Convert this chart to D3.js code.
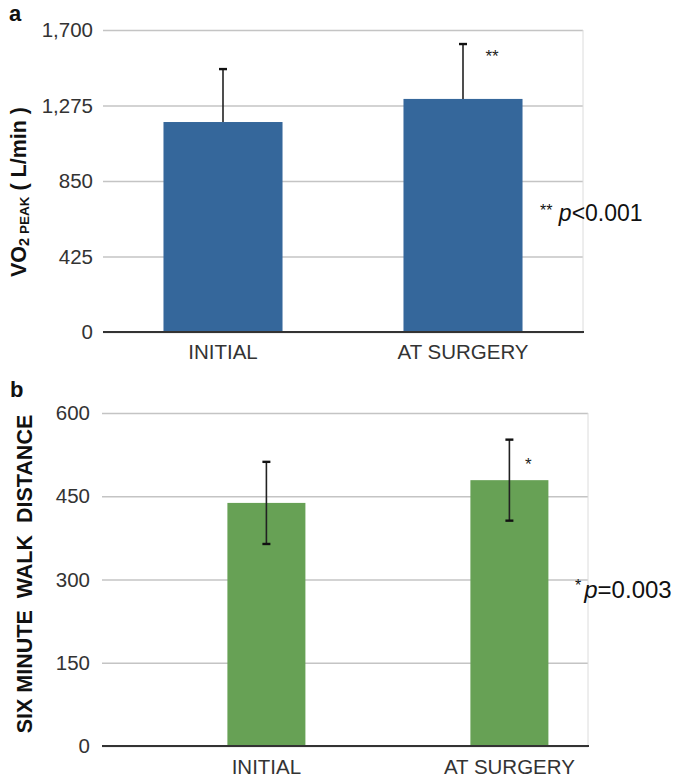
<!DOCTYPE html>
<html>
<head>
<meta charset="utf-8">
<script src="https://cdn.jsdelivr.net/npm/d3@7/dist/d3.min.js"></script>
<style>
  html, body { margin: 0; padding: 0; background: #fff; }
  svg { display: block; font-family: "Liberation Sans", Arial, Helvetica, sans-serif; }
</style>
</head>
<body>
<svg id="chart" width="679" height="777"></svg>
<script>
// ---- Data ----
const categories = ["INITIAL", "AT SURGERY"];

const vo2Mean = [1182, 1312];
const vo2SD = [298, 309];
const vo2Ticks = [0, 425, 850, 1275, 1700];
const vo2Sig = ["", "**"];

const walkMean = [438, 479];
const walkSD = [74, 73];
const walkTicks = [0, 150, 300, 450, 600];
const walkSig = ["", "*"];

// ---- Drawing ----
const svg = d3.select("#chart");

function panel(opts) {
  const g = svg.append("g");
  const x = d3.scaleBand()
    .domain(categories)
    .range([opts.left, opts.right])
    .paddingInner(opts.padIn)
    .paddingOuter(opts.padIn / 2)
    .align(opts.align);
  const y = d3.scaleLinear().domain([0, opts.max]).range([opts.bottom, opts.top]);

  // gridlines + tick labels
  const yAxis = d3.axisLeft(y)
    .tickValues(opts.ticks)
    .tickSize(-(opts.right - opts.left))
    .tickPadding(opts.tickPad)
    .tickFormat(d3.format(","));
  const ya = g.append("g").attr("transform", `translate(${opts.left},0)`).call(yAxis);
  ya.select(".domain").remove();
  ya.selectAll(".tick line").attr("stroke", "#c4c4c4").attr("stroke-width", 1.5);
  ya.selectAll(".tick text")
    .attr("fill", "#333")
    .attr("font-size", 20.5)
    .attr("font-family", "Liberation Sans, Arial, sans-serif");

  // right border
  g.append("line")
    .attr("x1", opts.right).attr("x2", opts.right)
    .attr("y1", y(opts.max)).attr("y2", y(0))
    .attr("stroke", "#dcdcdc").attr("stroke-width", 1);

  // bars
  g.selectAll("rect.bar").data(categories).join("rect")
    .attr("class", "bar")
    .attr("x", d => x(d))
    .attr("width", x.bandwidth())
    .attr("y", (d, i) => y(opts.mean[i]))
    .attr("height", (d, i) => y(0) - y(opts.mean[i]))
    .attr("fill", opts.color);

  // error bars
  const cap = 4;
  categories.forEach((c, i) => {
    const cx = x(c) + x.bandwidth() / 2;
    const hi = opts.mean[i] + opts.sd[i];
    const lo = opts.both ? opts.mean[i] - opts.sd[i] : opts.mean[i];
    g.append("line").attr("x1", cx).attr("x2", cx)
      .attr("y1", y(hi)).attr("y2", y(lo))
      .attr("stroke", "#222").attr("stroke-width", 1.6);
    g.append("line").attr("x1", cx - cap).attr("x2", cx + cap)
      .attr("y1", y(hi)).attr("y2", y(hi))
      .attr("stroke", "#111").attr("stroke-width", 2.4);
    if (opts.both) {
      g.append("line").attr("x1", cx - cap).attr("x2", cx + cap)
        .attr("y1", y(lo)).attr("y2", y(lo))
        .attr("stroke", "#111").attr("stroke-width", 2.4);
    }
    if (opts.sig[i]) {
      g.append("text")
        .attr("x", cx + opts.sigDx)
        .attr("y", y(opts.mean[i] + opts.sigDy))
        .attr("text-anchor", "middle")
        .attr("font-size", 17)
        .attr("fill", "#222")
        .text(opts.sig[i]);
    }
  });

  // x baseline
  g.append("line")
    .attr("x1", opts.left).attr("x2", opts.right + 1)
    .attr("y1", y(0)).attr("y2", y(0))
    .attr("stroke", "#333").attr("stroke-width", 2);

  // x labels
  g.selectAll("text.xl").data(categories).join("text")
    .attr("class", "xl")
    .attr("x", d => x(d) + x.bandwidth() / 2)
    .attr("y", y(0) + opts.xlabDy)
    .attr("text-anchor", "middle")
    .attr("font-size", 20.5)
    .attr("fill", "#333")
    .text(d => d);

  return { x, y };
}

// Panel a
panel({
  left: 103, right: 583, top: 30, bottom: 332, max: 1700,
  padIn: 0.504, align: 0.5, ticks: vo2Ticks, tickPad: 10,
  mean: vo2Mean, sd: vo2SD, both: false, color: "#35679b",
  sig: vo2Sig, sigDx: 29, sigDy: 210, xlabDy: 27
});

// Panel b
panel({
  left: 102, right: 588, top: 413, bottom: 746, max: 600,
  padIn: 0.679, align: 0.76, ticks: walkTicks, tickPad: 12,
  mean: walkMean, sd: walkSD, both: true, color: "#67a155",
  sig: walkSig, sigDx: 19, sigDy: 18, xlabDy: 28
});

// Panel letters
svg.append("text").attr("x", 9).attr("y", 21)
  .attr("font-size", 22).attr("font-weight", "bold").attr("fill", "#111").text("a");
svg.append("text").attr("x", 10).attr("y", 397)
  .attr("font-size", 22).attr("font-weight", "bold").attr("fill", "#111").text("b");

// Y titles
const ta = svg.append("text")
  .attr("transform", "translate(26,192) rotate(-90)")
  .attr("text-anchor", "middle")
  .attr("font-weight", "bold")
  .attr("font-size", 21.5)
  .attr("fill", "#111");
ta.append("tspan").text("VO");
ta.append("tspan").attr("font-size", 14.5).attr("dy", 3).text("2");
ta.append("tspan").attr("font-size", 13.5).text(" PEAK");
ta.append("tspan").attr("dy", -3).text(" ( L/min )");

svg.append("text")
  .attr("transform", "translate(32,574) rotate(-90)")
  .attr("text-anchor", "middle")
  .attr("font-weight", "bold")
  .attr("font-size", 21.5)
  .attr("fill", "#111")
  .attr("xml:space", "preserve")
  .style("white-space", "pre")
  .text("SIX MINUTE  WALK  DISTANCE");

// p-value annotations
const pa = svg.append("text").attr("x", 540).attr("y", 221).attr("font-size", 23).attr("fill", "#111");
pa.append("tspan").attr("font-size", 16).attr("dy", -5).text("**");
pa.append("tspan").attr("dy", 5).text(" ");
pa.append("tspan").attr("font-style", "italic").text("p");
pa.append("tspan").text("<0.001");

const pb = svg.append("text").attr("x", 575).attr("y", 598).attr("font-size", 24).attr("fill", "#111");
pb.append("tspan").attr("font-size", 16).attr("dy", -7).text("*");
pb.append("tspan").attr("dy", 7).attr("dx", 3).attr("font-style", "italic").text("p");
pb.append("tspan").text("=0.003");
</script>
</body>
</html>
